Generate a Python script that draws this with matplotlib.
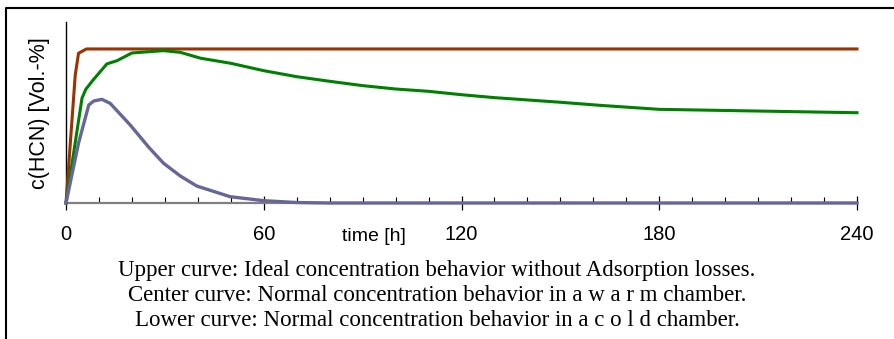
import matplotlib
matplotlib.use("Agg")
import matplotlib.pyplot as plt
from matplotlib.lines import Line2D

# ---- data (y relative to the ideal plateau = 1) ----
t_upper = [0, 2.8, 3.8, 6.2, 210, 240]
c_upper = [0, 0.83, 0.972, 1.0, 1.0, 1.0]

t_center = [0, 4.85, 6.0, 8.4, 12.4, 15.5, 20, 29.6, 34.7, 40.8, 50, 60, 70, 80,
            90, 100, 110, 120, 130, 140, 150, 162, 180, 210, 240]
c_center = [0, 0.68, 0.738, 0.803, 0.903, 0.924, 0.974, 0.989, 0.978, 0.94, 0.907,
            0.859, 0.820, 0.790, 0.762, 0.740, 0.725, 0.703, 0.684, 0.669, 0.654,
            0.634, 0.608, 0.597, 0.586]

t_lower = [0, 3.8, 6.9, 8.4, 10.9, 13.4, 19.5, 25.1, 29.6, 34.7, 39.7, 49.8, 60,
           70, 80, 240]
c_lower = [0, 0.388, 0.636, 0.662, 0.673, 0.647, 0.506, 0.362, 0.258, 0.175, 0.11,
           0.041, 0.015, 0.003, 0, 0]

major_ticks = [0, 60, 120, 180, 240]
tick_labels = ["0", "60", "120", "180", "240"]

ylabel = "c(HCN) [Vol.-%]"
xlabel = "time [h]"
caption = [
    "Upper curve: Ideal concentration behavior without Adsorption losses.",
    "Center curve: Normal concentration behavior in a w a r m chamber.",
    "Lower curve: Normal concentration behavior in a c o l d chamber.",
]

W, H = 894, 339
fig = plt.figure(figsize=(W / 100, H / 100), dpi=100)

def fx(px):
    return px / W

def fy(py):
    return 1 - py / H

ax = fig.add_axes([fx(66), fy(203), fx(857) - fx(66), fy(22) - fy(203)])
ax.plot(t_upper, c_upper, color="#993300", lw=2.2, clip_on=False, zorder=3)
ax.plot(t_center, c_center, color="#008000", lw=2.2, clip_on=False, zorder=4)
ax.plot(t_lower, c_lower, color="#666699", lw=2.4, clip_on=False, zorder=5)

ax.set_xlim(0, 240)
ax.set_ylim(0, 1.175)
for s in ("top", "right"):
    ax.spines[s].set_visible(False)
ax.spines["left"].set_color("black")
ax.spines["left"].set_linewidth(1.0)
ax.spines["bottom"].set_color("#808080")
ax.spines["bottom"].set_linewidth(1.6)
ax.spines["bottom"].set_zorder(2)

ax.set_yticks([])
ax.set_xticks(major_ticks)
ax.set_xticklabels(tick_labels, fontfamily="Liberation Sans", fontsize=14.5)
ax.set_xticks(list(range(0, 241, 10)), minor=True)
ax.tick_params(axis="x", which="major", direction="inout", length=10, width=0.9,
               color="black", pad=10.5)
ax.tick_params(axis="x", which="minor", direction="in", length=4, width=0.8,
               color="black")
ax.patch.set_alpha(0)

fig.text(fx(374), fy(241), xlabel, ha="center", va="baseline",
         fontfamily="Liberation Sans", fontsize=14)
fig.text(fx(40), fy(113), ylabel, ha="center", va="center", rotation=90,
         fontfamily="Liberation Sans", fontsize=15.5)

for i, line in enumerate(caption):
    fig.text(fx(437), fy(276 + 25 * i), line, ha="center", va="baseline",
             fontfamily="Liberation Serif", fontsize=16.5)

# frame (left and top edges visible)
fig.add_artist(Line2D([fx(6), fx(6), 1.01], [-0.01, fy(8), fy(8)],
                      transform=fig.transFigure, color="black", lw=1.5))

fig.savefig("out.png", dpi=100)
